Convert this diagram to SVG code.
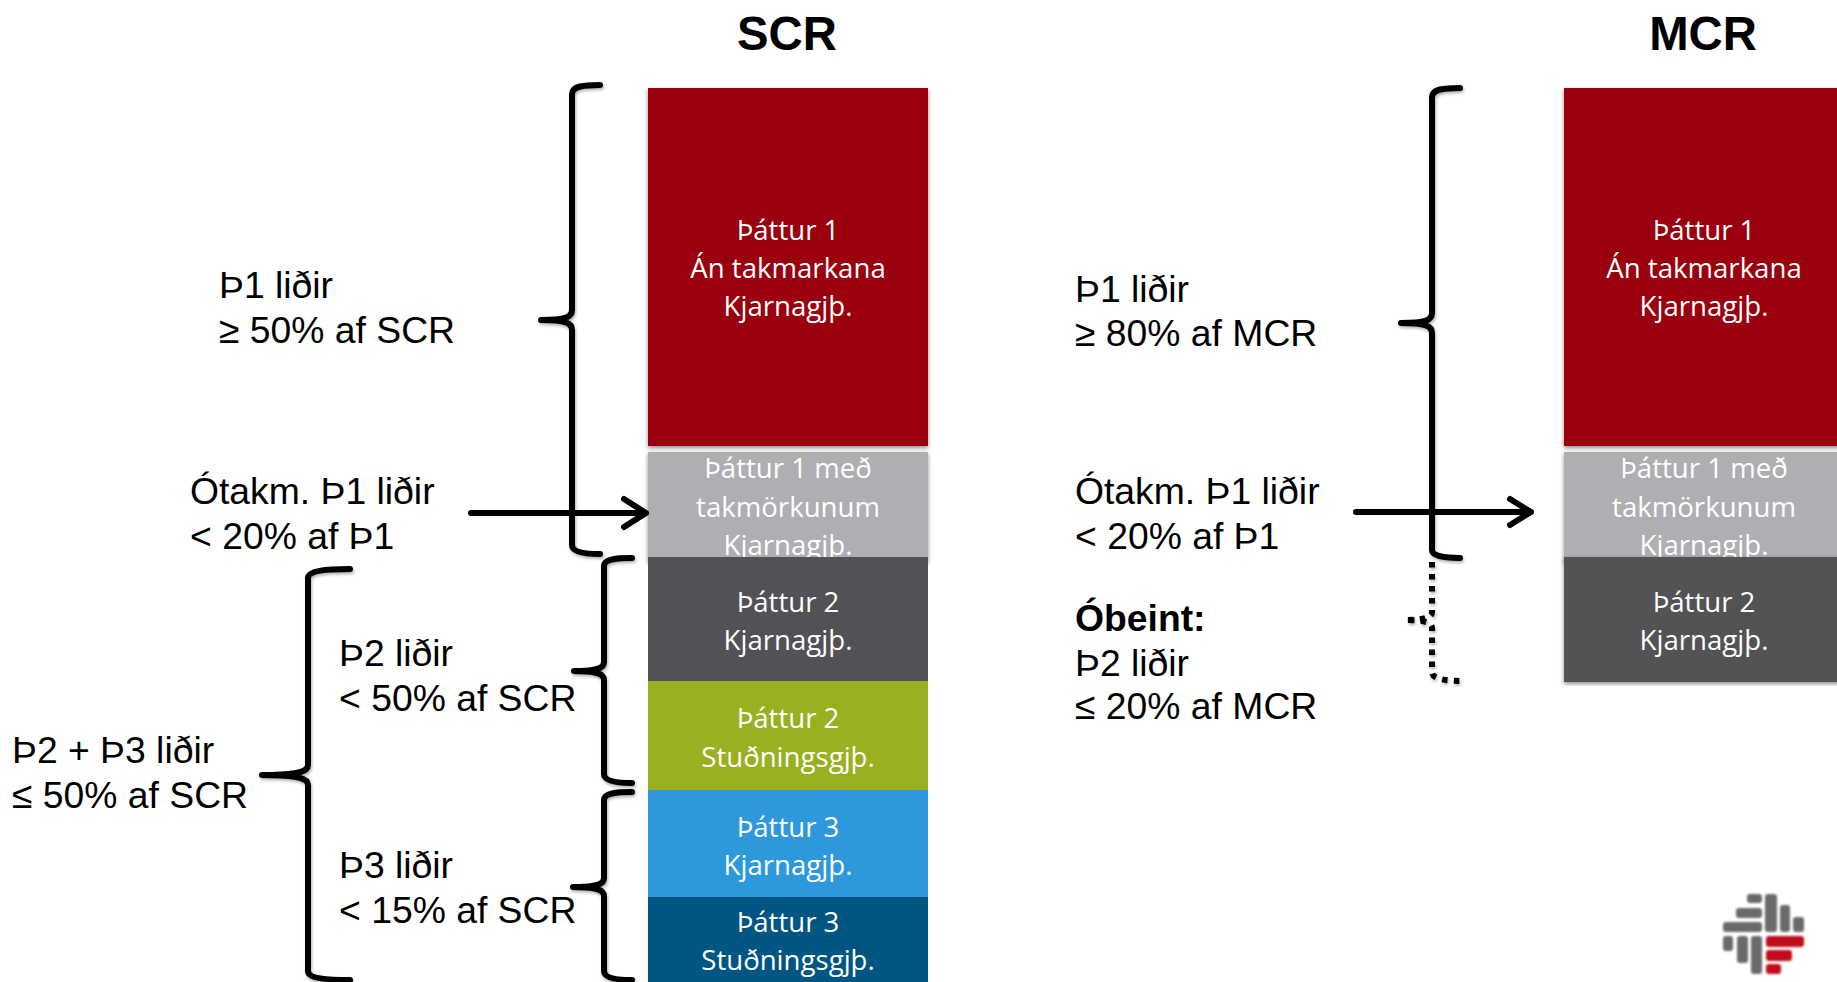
<svg xmlns="http://www.w3.org/2000/svg" width="1837" height="982" viewBox="0 0 1837 982">
<style>
.l{font:37.3px "Liberation Sans",Arial,sans-serif;fill:#000}
.t{font:bold 47.3px "Liberation Sans",Arial,sans-serif;fill:#000;text-anchor:middle}
.b{font:27.6px "Open Sans",sans-serif;fill:#fff;text-anchor:middle}
.br{fill:none;stroke:#000;stroke-width:6;stroke-linecap:round;stroke-linejoin:round;filter:url(#s)}
.dot{stroke-dasharray:5.5 6.5;stroke-linecap:butt}
.ar{fill:none;stroke:#000;stroke-width:6;stroke-linecap:round;stroke-linejoin:round}
.g{fill:#6a6a6a}.r{fill:#c00d1e}
.box{filter:url(#sb)}
</style>
<defs>
<filter id="s" x="-20%" y="-5%" width="140%" height="110%"><feDropShadow dx="1" dy="2" stdDeviation="1.6" flood-color="#000" flood-opacity=".3"/></filter>
<filter id="sb" x="-3%" y="-3%" width="106%" height="106%"><feDropShadow dx="0" dy="2" stdDeviation="2" flood-color="#000" flood-opacity=".45"/></filter>
<filter id="bl" x="-5%" y="-5%" width="110%" height="110%"><feGaussianBlur stdDeviation=".8"/></filter>
</defs>
<rect width="1837" height="982" fill="#fff"/>
<text class="t" x="787" y="50">SCR</text>
<text class="t" x="1703" y="50">MCR</text>
<g id="scr-t1"><rect class="box" x="648" y="88" width="280" height="358" fill="#9a0010"/><text class="b" x="788" y="240">Þáttur 1</text><text class="b" x="788" y="278">Án takmarkana</text><text class="b" x="788" y="316">Kjarnagjþ.</text></g>
<g id="scr-t1r"><rect class="box" x="648" y="452" width="280" height="110" fill="#afaeb2"/><text class="b" x="788" y="478">Þáttur 1 með</text><text class="b" x="788" y="517">takmörkunum</text><text class="b" x="788" y="555">Kjarnagjþ.</text></g>
<g id="scr-t2c"><rect x="648" y="557" width="280" height="124" fill="#525256"/><text class="b" x="788" y="612">Þáttur 2</text><text class="b" x="788" y="650">Kjarnagjþ.</text></g>
<g id="scr-t2s"><rect x="648" y="681" width="280" height="109" fill="#99b020"/><text class="b" x="788" y="728">Þáttur 2</text><text class="b" x="788" y="767">Stuðningsgjþ.</text></g>
<g id="scr-t3c"><rect x="648" y="790" width="280" height="107" fill="#2d98dc"/><text class="b" x="788" y="837">Þáttur 3</text><text class="b" x="788" y="875">Kjarnagjþ.</text></g>
<g id="scr-t3s"><rect x="648" y="897" width="280" height="85" fill="#005682"/><text class="b" x="788" y="932">Þáttur 3</text><text class="b" x="788" y="970">Stuðningsgjþ.</text></g>
<g id="mcr-t1"><rect class="box" x="1564" y="88" width="280" height="358" fill="#9a0010"/><text class="b" x="1704" y="240">Þáttur 1</text><text class="b" x="1704" y="278">Án takmarkana</text><text class="b" x="1704" y="316">Kjarnagjþ.</text></g>
<g id="mcr-t1r"><rect class="box" x="1564" y="452" width="280" height="110" fill="#afaeb2"/><text class="b" x="1704" y="478">Þáttur 1 með</text><text class="b" x="1704" y="517">takmörkunum</text><text class="b" x="1704" y="555">Kjarnagjþ.</text></g>
<g id="mcr-t2"><rect class="box" x="1564" y="557" width="280" height="125" fill="#525256"/><text class="b" x="1704" y="612">Þáttur 2</text><text class="b" x="1704" y="650">Kjarnagjþ.</text></g>
<g id="connectors">
<path class="br" d="M600 85C584 85 572 86 572 94V310C572 317 566 320 541 320C566 320 572 323 572 330V545C572 552 584 554 600 554"/>
<path class="br" d="M632 558C616 558 604 559 604 566V662C604 668 598 671 574 671C598 671 604 674 604 680V774C604 781 616 783 632 783"/>
<path class="br" d="M632 792C616 792 604 793 604 800V878C604 884 598 887 573 887C598 887 604 890 604 896V971C604 978 616 980 632 980"/>
<path class="br" d="M350 569C325 569 308 571 308 578V765C308 772 298 775 262 775C298 775 308 778 308 785V971C308 978 325 980 350 980"/>
<path class="br" d="M1460 88C1444 88 1432 89 1432 97V313C1432 320 1426 323 1401 323C1426 323 1432 326 1432 333V550C1432 556 1444 558 1460 558"/>
<path class="br dot" d="M1432 562V612C1432 617 1426 620 1405 620C1426 620 1432 623 1432 628V672C1432 679 1445 681 1464 681"/>
<path class="ar" d="M471 513H646M624 499L646 513L624 527"/>
<path class="ar" d="M1356 512H1531M1510 499L1531 512L1510 525"/>
</g>
<text class="l"><tspan x="219" y="298">Þ1 liðir</tspan><tspan x="219" y="343">≥ 50% af SCR</tspan></text>
<text class="l"><tspan x="190" y="504">Ótakm. Þ1 liðir</tspan><tspan x="190" y="549">&lt; 20% af Þ1</tspan></text>
<text class="l"><tspan x="339" y="666">Þ2 liðir</tspan><tspan x="339" y="711">&lt; 50% af SCR</tspan></text>
<text class="l"><tspan x="339" y="878">Þ3 liðir</tspan><tspan x="339" y="923">&lt; 15% af SCR</tspan></text>
<text class="l"><tspan x="12" y="763">Þ2 + Þ3 liðir</tspan><tspan x="12" y="808">≤ 50% af SCR</tspan></text>
<text class="l"><tspan x="1075" y="302">Þ1 liðir</tspan><tspan x="1075" y="346">≥ 80% af MCR</tspan></text>
<text class="l"><tspan x="1075" y="504">Ótakm. Þ1 liðir</tspan><tspan x="1075" y="549">&lt; 20% af Þ1</tspan></text>
<text class="l"><tspan x="1075" y="631" font-weight="bold">Óbeint:</tspan><tspan x="1075" y="676">Þ2 liðir</tspan><tspan x="1075" y="719">≤ 20% af MCR</tspan></text>
<g id="logo" filter="url(#bl)">
<rect class="g" x="1747" y="894" width="15" height="9" rx="3"/><rect class="g" x="1736" y="908" width="26" height="10" rx="3"/><rect class="g" x="1723" y="922" width="39" height="10" rx="3"/>
<rect class="g" x="1765" y="894" width="12" height="38" rx="3"/><rect class="g" x="1780" y="905" width="10" height="27" rx="3"/><rect class="g" x="1793" y="917" width="11" height="15" rx="3"/>
<rect class="g" x="1723" y="936" width="10" height="15" rx="3"/><rect class="g" x="1737" y="936" width="11" height="27" rx="3"/><rect class="g" x="1751" y="936" width="11" height="38" rx="3"/>
<rect class="r" x="1766" y="936" width="38" height="11" rx="3"/><rect class="r" x="1766" y="950" width="26" height="11" rx="3"/><rect class="r" x="1766" y="964" width="15" height="10" rx="3"/>
</g>
</svg>
